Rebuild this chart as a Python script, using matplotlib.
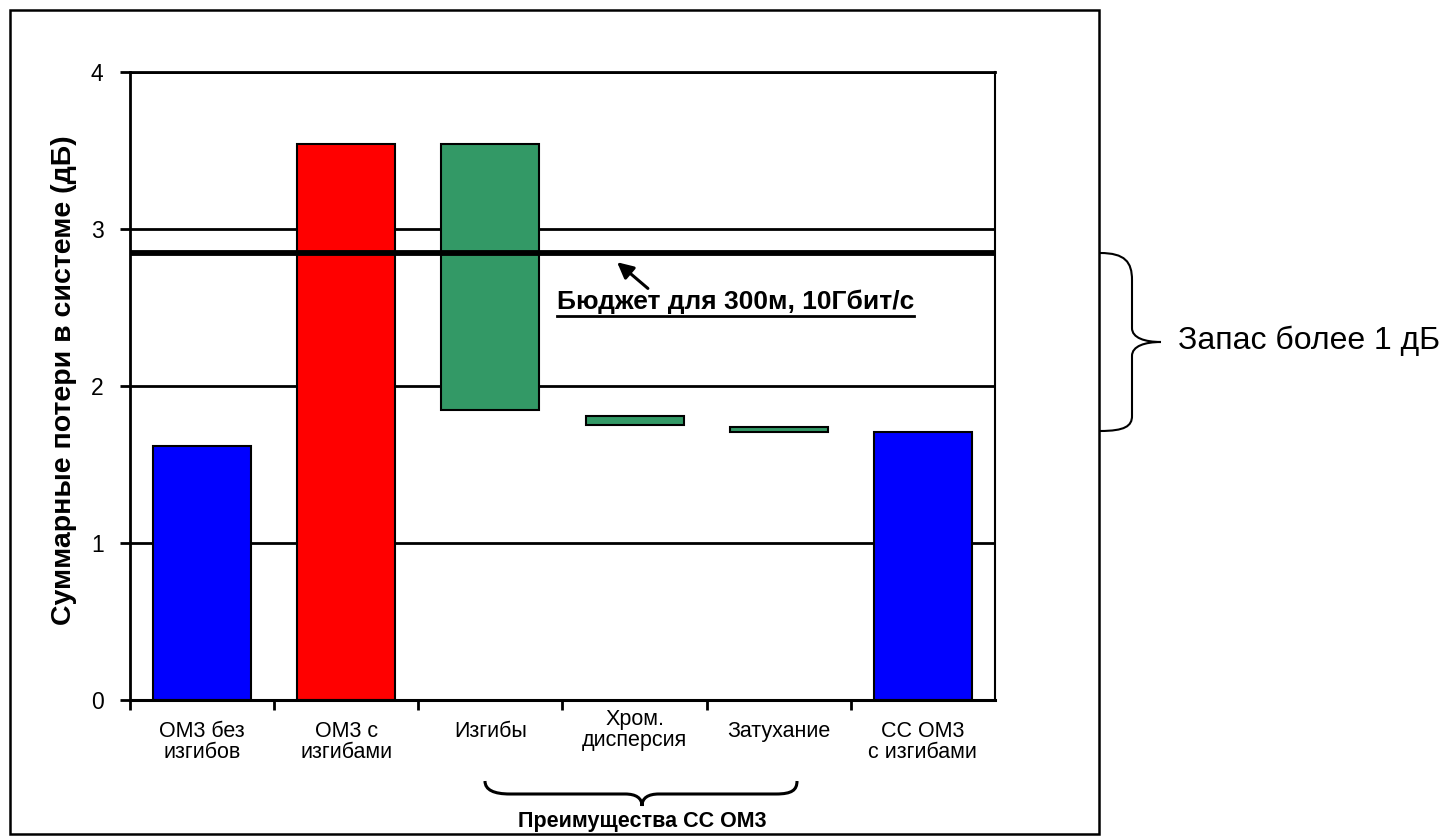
import matplotlib
matplotlib.use('Agg')
import matplotlib.pyplot as plt
import matplotlib.transforms as mtransforms
from matplotlib.path import Path
from matplotlib.patches import PathPatch, Rectangle
from matplotlib.lines import Line2D

plt.rcParams['font.family'] = ['Liberation Sans', 'DejaVu Sans']

# data
categories = ['ОМ3 без\nизгибов', 'ОМ3 с\nизгибами', 'Изгибы',
              'Хром.\nдисперсия', 'Затухание', 'СС ОМ3\nс изгибами']
bar_bottom = [0, 0, 1.85, 1.75, 1.71, 0]
bar_top = [1.62, 3.54, 3.54, 1.81, 1.74, 1.71]
bar_colors = ['#0000ff', '#ff0000', '#339966', '#339966', '#339966', '#0000ff']
budget = 2.85
y_ticks = [0, 1, 2, 3, 4]

W, H = 1452, 840
fig = plt.figure(figsize=(W / 100, H / 100), dpi=100)
ax = fig.add_axes([130 / W, 1 - 700 / H, (995 - 130) / W, (700 - 72) / H])

# helper transform: pixel coords measured from the top-left corner
px = mtransforms.Affine2D().scale(1 / W, -1 / H).translate(0, 1) + fig.transFigure

xpos = list(range(len(categories)))
heights = [t - b for t, b in zip(bar_top, bar_bottom)]
ax.bar(xpos, heights, bottom=bar_bottom, width=0.68, color=bar_colors,
       edgecolor='black', linewidth=1.5, zorder=2)

for yv in y_ticks[1:]:
    ax.axhline(yv, color='black', lw=2, zorder=1)
ax.axhline(budget, color='black', lw=4.2, zorder=3)

ax.set_xlim(-0.5, len(categories) - 0.5)
ax.set_ylim(0, 4)
ax.set_yticks(y_ticks)
ax.set_yticklabels([str(v) for v in y_ticks], fontsize=16.5)
ax.set_xticks([i - 0.5 for i in xpos])
ax.set_xticklabels([])
ax.tick_params(axis='y', length=7, width=2, pad=12, direction='out')
ax.tick_params(axis='x', length=7, width=2, direction='out')
ax.spines['left'].set_linewidth(2)
ax.spines['bottom'].set_linewidth(2.2)
ax.spines['top'].set_linewidth(2)
ax.spines['right'].set_linewidth(1.5)

# category labels under the axis
lab_tr = mtransforms.blended_transform_factory(ax.transData, px)
for i, lab in enumerate(categories):
    ytop = 709 if i == 3 else 721
    ax.text(i, ytop, lab, transform=lab_tr, ha='center', va='top',
            fontsize=15.5, linespacing=1.0)

fig.text(64, 380, 'Суммарные потери в системе (дБ)', transform=px,
         rotation=90, ha='center', va='center', fontsize=20.5, fontweight='bold')

# budget arrow + underlined label
ax.annotate('', xy=(2.864, 2.80), xytext=(3.107, 2.61),
            arrowprops=dict(arrowstyle='-|>', color='black', lw=2.2, mutation_scale=24))
t = fig.text(557, 309, 'Бюджет для 300м, 10Гбит/с', transform=px, fontsize=19,
             fontweight='bold', ha='left', va='baseline')
fig.canvas.draw()
bb = t.get_window_extent(fig.canvas.get_renderer())
x0 = bb.x0 / W
x1 = bb.x1 / W
yu = 1 - 316 / H
fig.add_artist(Line2D([x0, x1], [yu, yu], transform=fig.transFigure,
                      color='black', lw=2))

# right brace "Запас более 1 дБ"
rb = [(1100, 253), (1125, 253), (1132, 262), (1132, 280),
      (1132, 328),
      (1132, 338), (1145, 342), (1161, 342),
      (1145, 342), (1132, 346), (1132, 356),
      (1132, 416),
      (1132, 426), (1125, 431), (1100, 431)]
rc = [Path.MOVETO, Path.CURVE4, Path.CURVE4, Path.CURVE4, Path.LINETO,
      Path.CURVE4, Path.CURVE4, Path.CURVE4, Path.CURVE4, Path.CURVE4, Path.CURVE4,
      Path.LINETO, Path.CURVE4, Path.CURVE4, Path.CURVE4]
fig.add_artist(PathPatch(Path(rb, rc), transform=px, fill=False, lw=1.5, color='black'))
fig.text(1178, 341, 'Запас более 1 дБ', transform=px, ha='left', va='center', fontsize=23)

# bottom brace "Преимущества СС ОМ3"
bb_pts = [(485, 781), (485, 790), (494, 794), (510, 794),
          (625, 794),
          (636, 794), (642, 798), (642, 806),
          (642, 798), (648, 794), (659, 794),
          (776, 794),
          (792, 794), (797, 790), (797, 781)]
fig.add_artist(PathPatch(Path(bb_pts, rc), transform=px, fill=False, lw=2.2, color='black'))
fig.text(642, 827, 'Преимущества СС ОМ3', transform=px, ha='center', va='baseline',
         fontsize=15.5, fontweight='bold')

# outer frame
fig.add_artist(Rectangle((10, 10), 1089, 824, transform=px, fill=False, lw=1.8,
                         edgecolor='black'))

fig.savefig('out.png', dpi=100)
